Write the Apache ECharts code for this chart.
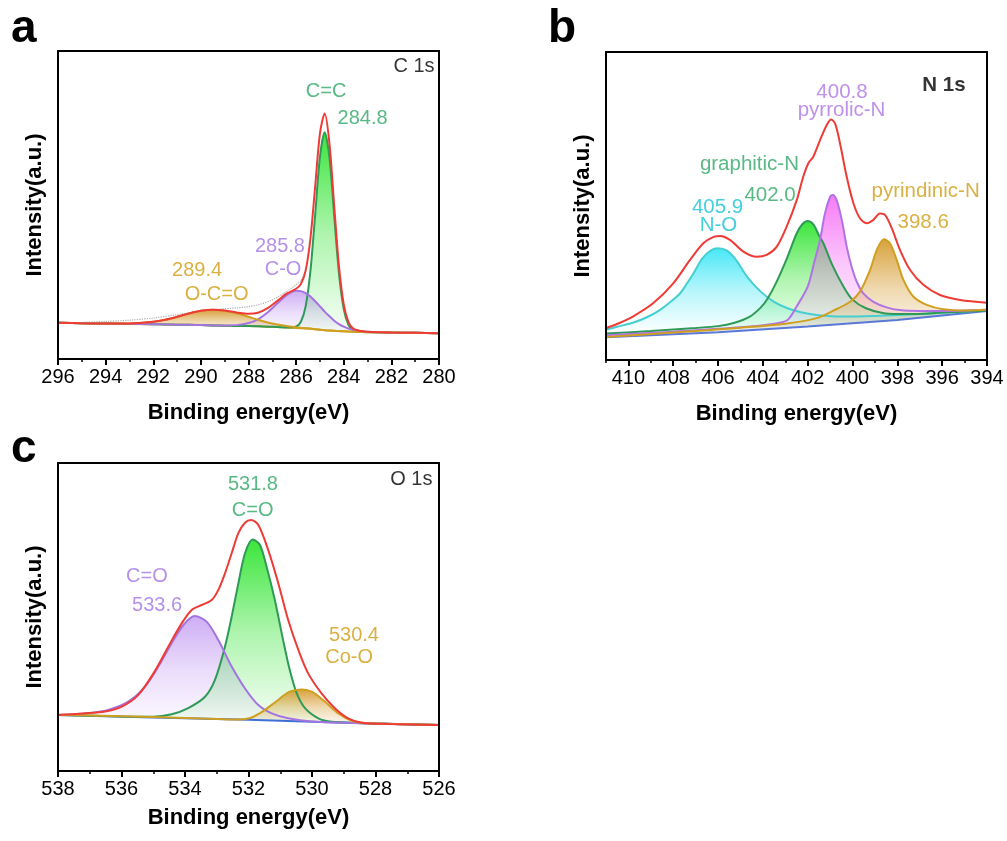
<!DOCTYPE html>
<html><head><meta charset="utf-8">
<script src="https://cdn.jsdelivr.net/npm/echarts@6/dist/echarts.min.js"></script>
<style>html,body{margin:0;padding:0;background:#fff}#c{width:1007px;height:841px}</style>
</head><body><div id="c"></div>
<script>
// ---------------- DATA ----------------
// Panel a: C 1s (binding energy grid, intensities in a.u.)
const energyA   = [296, 295, 294, 293, 292, 291.5, 291, 290.5, 290, 289.5, 289, 288.5, 288, 287.6, 287.2, 286.8, 286.4, 286.0, 285.8, 285.6, 285.4, 285.2, 285.0, 284.8, 284.6, 284.4, 284.2, 284.0, 283.8, 283.6, 283.2, 282.8, 282, 281, 280];
const baselineA = [11.8, 11.6, 11.5, 11.4, 11.3, 11.2, 11.15, 11.1, 11.0, 10.9, 10.8, 10.75, 10.7, 10.6, 10.5, 10.4, 10.25, 10.1, 10.0, 9.9, 9.8, 9.65, 9.5, 9.35, 9.25, 9.15, 9.05, 9.0, 8.9, 8.85, 8.8, 8.7, 8.6, 8.5, 8.4];
const ocoA      = [11.8, 11.6, 11.52, 11.55, 12.12, 12.75, 13.7, 14.78, 15.63, 15.99, 15.68, 14.85, 13.7, 12.72, 11.88, 11.22, 10.7, 10.32, 10.15, 10.0, 9.87, 9.69, 9.53, 9.35, 9.25, 9.15, 9.05, 9.0, 8.9, 8.85, 8.8, 8.7, 8.6, 8.5, 8.4];
const coA       = [11.8, 11.6, 11.5, 11.4, 11.3, 11.2, 11.15, 11.1, 11.0, 10.91, 10.85, 11.0, 11.67, 12.9, 15.1, 18.0, 20.75, 22.13, 22.03, 21.4, 20.3, 18.75, 17.1, 15.4, 13.85, 12.45, 11.35, 10.5, 9.87, 9.43, 8.99, 8.75, 8.6, 8.5, 8.4];
const ccA       = [11.8, 11.6, 11.5, 11.4, 11.3, 11.2, 11.15, 11.1, 11.0, 10.9, 10.8, 10.75, 10.7, 10.6, 10.5, 10.4, 10.25, 10.56, 12.1, 17.1, 28.5, 46.85, 65.6, 73.65, 65.35, 46.35, 27.75, 16.2, 11.0, 9.3, 8.8, 8.7, 8.6, 8.5, 8.4];
const envelopeA = [11.8, 11.6, 11.52, 11.55, 12.12, 12.75, 13.7, 14.78, 15.63, 16.0, 15.73, 15.1, 14.67, 15.0, 16.5, 18.8, 21.2, 22.8, 24.3, 28.7, 39.1, 56.0, 73.2, 79.7, 69.95, 49.65, 30.05, 17.7, 11.97, 9.89, 8.99, 8.75, 8.6, 8.5, 8.4];
const rawA = [[295, 11.9], [294, 12.2], [293, 12.6], [292, 13.3], [291, 14.4], [290, 15.6], [289, 16.3], [288.5, 16.6], [288, 17.0], [287.5, 17.8], [287, 19.2], [286.5, 21.4], [286.1, 23.5], [285.8, 25.5], [285.6, 29]];

// Panel b: N 1s ([binding energy, intensity])
const baselineB = [[411, 7.4], [406, 9.0], [402, 10.9], [398, 13.0], [394, 15.9]];
const noB = [[411, 9.8], [410.5, 10.8], [409.8, 12.1], [409.2, 13.8], [408.6, 16.2], [408.1, 19.0], [407.7, 21.6], [407.4, 24.7], [407.1, 28.1], [406.7, 33.0], [406.3, 35.7], [406.0, 36.3], [405.6, 35.5], [405.2, 32.5], [404.7, 27.0], [404.1, 22.2], [403.5, 18.9], [402.9, 16.8], [402.3, 15.5], [401.6, 14.6], [400.9, 14.2], [400.0, 14.1], [399.0, 14.3], [398.0, 14.6], [396.0, 15.3], [394.0, 16.2]];
const graphiticB = [[411, 8.6], [409, 9.4], [407, 10.4], [406, 11.0], [405.3, 12.0], [404.6, 14.0], [404.1, 17.0], [403.8, 19.8], [403.4, 25.2], [402.9, 33.5], [402.5, 41.0], [402.25, 44.0], [402.0, 45.1], [401.75, 44.0], [401.5, 40.5], [401.3, 37.9], [400.9, 30.8], [400.4, 23.8], [400.0, 19.6], [399.4, 16.8], [398.6, 15.2], [397.5, 14.9], [396.0, 15.4], [394.0, 16.1]];
const pyrrolicB = [[411, 8.0], [408, 9.2], [405, 10.6], [403.5, 11.8], [402.9, 13.0], [402.5, 17.3], [402.0, 23.8], [401.7, 32.0], [401.45, 39.0], [401.23, 47.6], [401.0, 53.0], [400.88, 53.6], [400.71, 51.9], [400.48, 45.5], [400.26, 36.8], [400.04, 30.3], [399.81, 25.4], [399.52, 21.6], [399.07, 18.9], [398.48, 17.1], [397.9, 16.2], [397.0, 15.9], [396.0, 15.9], [394.0, 16.3]];
const pyridinicB = [[411, 7.5], [408, 8.9], [405, 10.5], [403, 11.8], [401.6, 13.6], [400.86, 16.0], [400.11, 18.9], [399.67, 22.2], [399.22, 29.2], [398.92, 35.7], [398.6, 39.2], [398.33, 37.9], [398.03, 32.5], [397.73, 26.0], [397.29, 20.6], [396.69, 17.9], [395.95, 16.5], [394.9, 16.1], [394.0, 16.3]];
const envelopeB = [[411, 10.3], [410.4, 12.0], [409.8, 14.1], [408.9, 18.4], [408.0, 24.9], [407.25, 32.5], [406.66, 37.9], [406.2, 40.0], [405.9, 40.3], [405.47, 39.0], [404.87, 35.2], [404.28, 33.5], [403.83, 34.1], [403.38, 36.8], [402.94, 43.3], [402.49, 51.9], [402.2, 59.5], [401.97, 63.9], [401.75, 66.0], [401.45, 71.4], [401.15, 76.3], [400.96, 78.1], [400.78, 76.8], [400.56, 70.4], [400.26, 59.5], [399.96, 50.9], [399.67, 46.0], [399.37, 44.4], [399.07, 45.5], [398.78, 47.6], [398.55, 47.1], [398.25, 42.8], [397.88, 35.7], [397.43, 29.2], [396.84, 24.4], [396.1, 21.1], [395.2, 19.5], [394.0, 18.6]];

// Panel c: O 1s ([binding energy, intensity])
const baselineC = [[538, 18.2], [535, 17.4], [532, 16.6], [530, 16.0], [528, 15.4], [526, 14.9]];
const coC = [[538, 18.2], [537.5, 18.4], [537.05, 18.8], [536.42, 19.8], [535.79, 22.5], [535.26, 27.4], [534.84, 33.9], [534.42, 41.5], [534.05, 47.4], [533.69, 50.3], [533.32, 48.5], [532.95, 42.5], [532.53, 33.9], [532.11, 26.8], [531.69, 21.4], [531.27, 18.7], [530.75, 17.1], [530, 16.1], [528, 15.4], [526, 14.9]];
const ceoC = [[538, 18.2], [536, 17.7], [535, 17.6], [534.42, 18.4], [533.9, 20.4], [533.37, 24.1], [533.06, 29.5], [532.74, 40.4], [532.53, 50.1], [532.32, 60.9], [532.11, 70.7], [531.87, 75.2], [531.64, 73.4], [531.43, 66.3], [531.17, 55.5], [530.91, 42.5], [530.7, 32.8], [530.48, 25.2], [530.22, 20.4], [529.8, 17.1], [529.38, 16.0], [528, 15.4], [526, 14.9]];
const cooC = [[538, 18.3], [535, 17.5], [533, 16.9], [532.4, 16.7], [531.98, 17.1], [531.56, 19.3], [531.14, 22.5], [530.72, 25.7], [530.31, 26.5], [529.99, 25.7], [529.59, 22.5], [529.17, 18.7], [528.75, 16.3], [528.33, 15.6], [527, 15.2], [526, 14.9]];
const envelopeC = [[538, 18.2], [537.2, 18.7], [536.52, 19.3], [535.99, 20.9], [535.47, 24.7], [534.94, 32.6], [534.52, 40.5], [534.1, 48.0], [533.79, 52.3], [533.47, 53.9], [533.16, 55.5], [532.95, 58.8], [532.74, 64.2], [532.53, 70.7], [532.32, 77.2], [532.11, 80.6], [531.92, 81.5], [531.69, 79.9], [531.38, 71.8], [531.06, 60.9], [530.75, 49.0], [530.43, 39.3], [530.12, 31.7], [529.7, 25.2], [529.28, 20.4], [528.86, 17.1], [528.44, 15.7], [527.6, 15.3], [526, 14.9]];

// Annotations: [text, binding energy, intensity, colour key]
const annotA = [['C 1s', 281.05, 95.0, 'black'], ['C=C', 284.74, 86.9, 'green'], ['284.8', 283.21, 78.1, 'green'], ['285.8', 286.68, 36.5, 'purple'], ['C-O', 286.55, 29.2, 'purple'], ['289.4', 290.16, 28.9, 'gold'], ['O-C=O', 289.34, 20.9, 'gold']];
const annotB = [['N 1s', 395.92, 89.1, 'black'], ['400.8', 400.47, 86.9, 'pink'], ['pyrrolic-N', 400.49, 81.1, 'pink'], ['graphitic-N', 404.6, 63.5, 'green'], ['402.0', 403.68, 53.4, 'green'], ['pyrindinic-N', 396.74, 54.7, 'gold'], ['398.6', 396.85, 44.6, 'gold'], ['405.9', 406.02, 49.7, 'cyan'], ['N-O', 405.98, 43.8, 'cyan']];
const annotC = [['O 1s', 526.87, 94.5, 'black'], ['531.8', 531.86, 93.0, 'green'], ['C=O', 531.87, 84.7, 'green'], ['C=O', 535.2, 63.3, 'purple'], ['533.6', 534.88, 53.7, 'purple'], ['530.4', 528.68, 44.0, 'gold'], ['Co-O', 528.83, 36.9, 'gold']];

// ---------------- STYLE ----------------
const FONT = '"Liberation Sans", Arial, Helvetica, sans-serif';
const STYLE = {
  green:  {line: '#2f9a58', rgb: [25, 225, 25],   a: 0.85, text: '#2ea865'},
  purple: {line: '#a374e0', rgb: [180, 130, 240], a: 0.65, text: '#a274e4'},
  gold:   {line: '#cf9f1f', rgb: [212, 152, 40],  a: 0.9,  text: '#cf9c12'},
  cyan:   {line: '#46cfd0', rgb: [40, 228, 245],  a: 0.85, text: '#15c3d4'},
  pink:   {line: '#b173e3', rgb: [245, 100, 245], a: 0.85, text: '#ac74e6'},
  black:  {text: '#000'}
};
const RED = '#ef3b36';
const zip = (xs, ys) => xs.map((x, i) => [x, ys[i]]);

const panels = [
  {grid: {left: 58, top: 51, width: 381, height: 308}, min: 280, max: 296, nameGap: 43, fs: 20, bold1s: false,
   baseline: zip(energyA, baselineA), baseColor: STYLE.gold.line,
   fills: [[zip(energyA, ocoA), 'gold'], [zip(energyA, coA), 'purple'], [zip(energyA, ccA), 'green']],
   lines: [[zip(energyA, ccA), 'green'], [zip(energyA, coA), 'purple'], [zip(energyA, ocoA), 'gold']],
   envelope: zip(energyA, envelopeA), raw: rawA, annot: annotA},
  {grid: {left: 606, top: 52, width: 381, height: 308}, min: 394, max: 411, nameGap: 43, fs: 20.5, bold1s: true,
   baseline: baselineB, baseColor: '#5a78d8',
   fills: [[noB, 'cyan'], [graphiticB, 'green'], [pyrrolicB, 'pink'], [pyridinicB, 'gold']],
   lines: [[noB, 'cyan'], [graphiticB, 'green'], [pyrrolicB, 'pink'], [pyridinicB, 'gold']],
   envelope: envelopeB, raw: null, annot: annotB},
  {grid: {left: 58, top: 463, width: 381, height: 308}, min: 526, max: 538, nameGap: 36, fs: 20, bold1s: false,
   baseline: baselineC, baseColor: '#3f6fd6',
   fills: [[coC, 'purple'], [ceoC, 'green'], [cooC, 'gold']],
   lines: [[ceoC, 'green'], [coC, 'purple'], [cooC, 'gold']],
   envelope: envelopeC, raw: null, annot: annotC}
];

const rgba = (c, a) => 'rgba(' + c[0] + ',' + c[1] + ',' + c[2] + ',' + a + ')';
const axisLineStyle = {color: '#000', width: 2};

const grids = [], xAxes = [], yAxes = [], series = [];
panels.forEach((p, i) => {
  grids.push(Object.assign({outerBoundsMode: 'none', containLabel: false}, p.grid));
  const xi = xAxes.length, yi = yAxes.length;
  xAxes.push({gridIndex: i, type: 'value', min: p.min, max: p.max, interval: 2, inverse: true, position: 'bottom', z: 10,
    axisLine: {show: true, onZero: false, lineStyle: axisLineStyle},
    axisTick: {show: true, inside: false, length: 6, lineStyle: {color: '#000', width: 2}},
    axisLabel: {show: true, margin: 8, fontSize: 20, fontFamily: FONT, color: '#000', showMaxLabel: p.max % 2 === 0, showMinLabel: true},
    splitLine: {show: false},
    name: 'Binding energy(eV)', nameLocation: 'middle', nameGap: p.nameGap,
    nameTextStyle: {fontSize: 22, fontWeight: 'bold', fontFamily: FONT, color: '#000'}});
  xAxes.push({gridIndex: i, type: 'value', min: p.min, max: p.max, interval: 1, inverse: true, position: 'bottom', z: 10,
    axisLine: {show: false}, axisTick: {show: true, inside: false, length: 3, lineStyle: {color: '#000', width: 1.5}},
    axisLabel: {show: false}, splitLine: {show: false}});
  xAxes.push({gridIndex: i, type: 'value', min: p.min, max: p.max, inverse: true, position: 'top', z: 10,
    axisLine: {show: true, onZero: false, lineStyle: axisLineStyle}, axisTick: {show: false},
    axisLabel: {show: false}, splitLine: {show: false}});
  yAxes.push({gridIndex: i, type: 'value', min: 0, max: 100, position: 'left', z: 10,
    axisLine: {show: true, onZero: false, lineStyle: axisLineStyle}, axisTick: {show: false},
    axisLabel: {show: false}, splitLine: {show: false},
    name: 'Intensity(a.u.)', nameLocation: 'middle', nameGap: 12,
    nameTextStyle: {fontSize: 22, fontWeight: 'bold', fontFamily: FONT, color: '#000'}});
  yAxes.push({gridIndex: i, type: 'value', min: 0, max: 100, position: 'right', z: 10,
    axisLine: {show: true, onZero: false, lineStyle: axisLineStyle}, axisTick: {show: false},
    axisLabel: {show: false}, splitLine: {show: false}});

  const common = {type: 'line', xAxisIndex: xi, yAxisIndex: yi, symbol: 'none', silent: true, animation: false};
  // gradient fills of the fitted components
  p.fills.forEach(([data, key]) => {
    const vals = data.map(d => d[1]);
    const peak = Math.max(...vals), base = Math.min(...vals);
    const f = Math.min(0.98, (peak - base) / peak);
    const s = STYLE[key], c = s.rgb;
    series.push(Object.assign({}, common, {data, smooth: 0.3, z: 2,
      lineStyle: {width: 0, opacity: 0},
      areaStyle: {opacity: 1, color: new echarts.graphic.LinearGradient(0, 0, 0, 1, [
        {offset: 0, color: rgba(c, s.a)}, {offset: f * 0.5, color: rgba(c, s.a * 0.42)},
        {offset: f, color: rgba(c, 0.03)}, {offset: 1, color: rgba(c, 0.0)}])}}));
  });
  // white mask below the background line
  series.push(Object.assign({}, common, {data: p.baseline, z: 3, lineStyle: {width: 0, opacity: 0},
    areaStyle: {color: '#fff', opacity: 1}}));
  // background line
  series.push(Object.assign({}, common, {data: p.baseline, z: 4, lineStyle: {color: p.baseColor, width: 2}}));
  // component outlines
  p.lines.forEach(([data, key]) => {
    series.push(Object.assign({}, common, {data, smooth: 0.3, z: 5, lineStyle: {color: STYLE[key].line, width: 2}}));
  });
  // raw data
  if (p.raw) series.push(Object.assign({}, common, {data: p.raw, smooth: 0.3, z: 5,
    lineStyle: {color: '#9a9a9a', width: 1.2, type: 'dotted', opacity: 0.8}}));
  // envelope
  series.push(Object.assign({}, common, {data: p.envelope, smooth: 0.3, z: 6, lineStyle: {color: RED, width: 2}}));
  // annotations
  series.push({type: 'scatter', xAxisIndex: xi, yAxisIndex: yi, z: 8, silent: true, animation: false,
    symbolSize: 1, itemStyle: {color: 'rgba(0,0,0,0)'},
    data: p.annot.map(a => ({name: a[0], value: [a[1], a[2]],
      label: {color: STYLE[a[3]].text, fontWeight: (a[3] === 'black' && p.bold1s) ? 'bold' : 'normal'}})),
    label: {show: true, position: 'inside', formatter: '{b}', fontSize: p.fs, fontFamily: FONT,
      align: 'center', verticalAlign: 'middle'}});
});

const letter = (t, x, y) => ({type: 'text', x, y, silent: true, z: 20,
  style: {text: t, font: 'bold 46px ' + FONT, fill: '#000', align: 'left', verticalAlign: 'middle',
    textAlign: 'left', textVerticalAlign: 'middle'}});

const chart = echarts.init(document.getElementById('c'), null, {renderer: 'canvas'});
chart.setOption({
  animation: false,
  backgroundColor: '#fff',
  textStyle: {fontFamily: FONT},
  grid: grids, xAxis: xAxes, yAxis: yAxes, series,
  graphic: [letter('a', 11, 29), letter('b', 548, 29), letter('c', 11, 449)]
});
</script></body></html>
